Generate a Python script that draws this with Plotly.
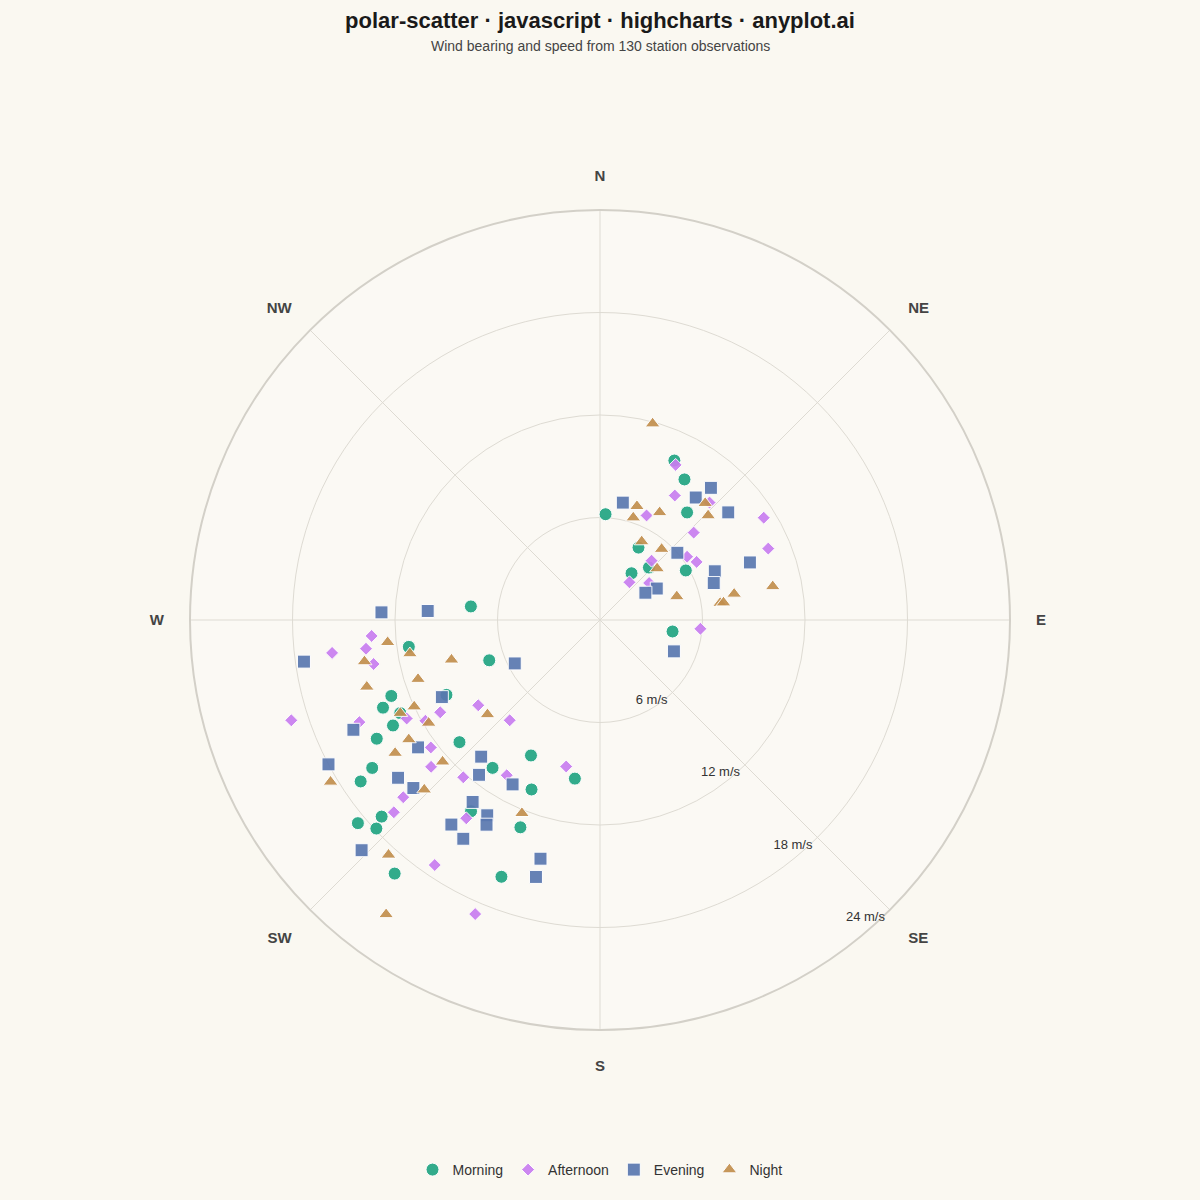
import plotly.graph_objects as go

# ---- data (bearing in degrees clockwise from north, speed in m/s) ----
morning_bearing = [25, 31, 3, 39, 28, 43, 34, 60, 99, 276, 262, 250, 244, 250, 248, 245, 243, 242, 229, 207,
                   237, 216, 236, 202, 189, 228, 230, 227, 214, 201, 219, 201]
morning_speed = [10.3, 9.6, 6.2, 8.1, 4.8, 4.2, 3.3, 5.8, 4.3, 7.6, 11.3, 6.9, 10.0, 13.0, 13.7, 12.9, 13.6, 14.8,
                 10.9, 8.9, 15.9, 10.7, 16.9, 10.7, 9.4, 17.2, 18.5, 17.9, 13.5, 13.0, 19.1, 16.1]

afternoon_bearing = [26, 31, 43, 24, 58, 47, 67, 41, 54, 59, 38, 53, 95, 266, 263, 263, 259, 252, 247, 243, 240,
                     240, 235, 222, 233, 229, 228, 227, 221, 211, 193, 214, 214, 203]
afternoon_speed = [10.1, 8.5, 9.4, 6.7, 11.3, 7.5, 10.7, 4.6, 6.3, 6.6, 2.8, 3.6, 5.9, 13.4, 13.8, 15.8, 13.5,
                   19.0, 15.3, 12.7, 11.8, 10.8, 8.7, 7.9, 12.4, 13.1, 15.5, 16.5, 12.2, 10.6, 8.8, 14.0, 17.3, 18.7]

evening_bearing = [11, 38, 40, 50, 49, 69, 67, 72, 61, 59, 113, 272, 273, 262, 243, 244, 246, 242, 235, 232, 228,
                   221, 218, 208, 215, 210, 216, 209, 212, 226, 194, 194]
evening_speed = [7.0, 9.1, 10.1, 9.8, 6.0, 9.4, 7.3, 7.0, 3.8, 3.1, 4.7, 12.8, 10.1, 17.5, 5.6, 10.3, 15.8, 18.0,
                 13.0, 15.0, 14.7, 10.6, 11.5, 10.9, 13.0, 13.2, 14.8, 13.7, 15.1, 19.4, 14.4, 15.5]

night_bearing = [15, 18, 18, 29, 42, 46, 28, 41, 48, 73, 82, 82, 79, 79, 264, 260, 260, 254, 252, 245, 245, 239,
                 255, 230, 238, 237, 239, 226, 228, 202, 222, 216]
night_speed = [11.9, 7.0, 6.3, 7.2, 9.2, 8.8, 5.2, 5.5, 4.5, 4.7, 7.1, 7.3, 8.0, 10.3, 12.5, 11.3, 14.0, 14.2,
               11.2, 12.0, 12.9, 11.7, 9.0, 8.6, 13.2, 14.3, 18.4, 14.3, 12.4, 12.2, 18.5, 21.3]

compass_vals = [0, 45, 90, 135, 180, 225, 270, 315]
compass_text = ["N", "NE", "E", "SE", "S", "SW", "W", "NW"]
speed_ticks = [6, 12, 18, 24]
speed_text = ["6 m/s", "12 m/s", "18 m/s", "24 m/s"]

BG = "#FAF8F1"
FONT = "Liberation Sans, Arial, sans-serif"

series = [
    ("Morning", morning_bearing, morning_speed, "circle", 13, "#22A583"),
    ("Afternoon", afternoon_bearing, afternoon_speed, "diamond", 10, "#C97EF0"),
    ("Evening", evening_bearing, evening_speed, "square", 13, "#5A78B0"),
    ("Night", night_bearing, night_speed, "triangle-up", 13, "#C28F4E"),
]

fig = go.Figure()
for name, th, r, sym, size, col in series:
    fig.add_trace(go.Scatterpolar(
        r=r, theta=th, mode="markers", name=name,
        marker=dict(symbol=sym, size=size, color=col, opacity=0.92,
                    line=dict(color="white", width=1)),
    ))

fig.update_layout(
    width=1200, height=1200,
    paper_bgcolor=BG,
    margin=dict(l=0, r=0, t=0, b=0),
    font=dict(family=FONT, color="#333333"),
    title=dict(text="<b>polar-scatter · javascript · highcharts · anyplot.ai</b>",
               x=0.5, xanchor="center", y=1 - 20 / 1200, yanchor="middle",
               font=dict(size=22, color="#1a1a1a", family=FONT)),
    annotations=[dict(text="Wind bearing and speed from 130 station observations",
                      x=0.5, y=1 - 46 / 1200, xref="paper", yref="paper",
                      xanchor="center", yanchor="middle",
                      showarrow=False, font=dict(size=14, color="#444444", family=FONT))],
    polar=dict(
        domain=dict(x=[190 / 1200, 1010 / 1200], y=[1 - 1030 / 1200, 1 - 210 / 1200]),
        bgcolor="#FBF9F4",
        angularaxis=dict(
            rotation=90, direction="clockwise",
            tickmode="array", tickvals=compass_vals, ticktext=compass_text,
            tickfont=dict(size=15, color="#444444", family=FONT, weight="bold"),
            ticks="outside", ticklen=22, tickcolor="rgba(0,0,0,0)",
            showline=True, linecolor="#D3D0C8", linewidth=2,
            gridcolor="#DEDBD3", gridwidth=1,
        ),
        radialaxis=dict(
            range=[0, 24], angle=-45, tickangle=-45,
            tickmode="array", tickvals=speed_ticks, ticktext=speed_text,
            tickfont=dict(size=13, color="#333333", family=FONT),
            showline=False, ticks="",
            gridcolor="#DEDBD3", gridwidth=1,
        ),
    ),
    legend=dict(orientation="h", x=0.5, xanchor="center", y=1 - 1170 / 1200, yanchor="middle",
                font=dict(size=14, color="#333333", family=FONT), bgcolor="rgba(0,0,0,0)",
                itemsizing="trace", itemwidth=30),
)

fig.write_html("out.html", config={"displayModeBar": False},
               post_script="document.body.style.margin='0';document.body.style.overflow='hidden';")
